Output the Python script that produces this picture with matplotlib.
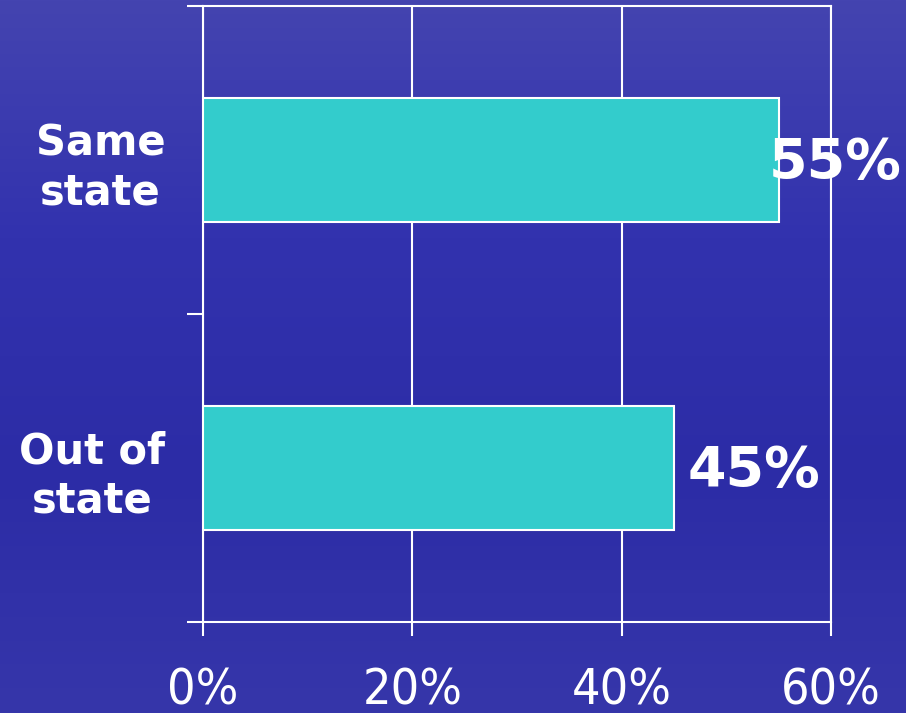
import numpy as np
import matplotlib.pyplot as plt
from matplotlib.colors import LinearSegmentedColormap

# data
categories = ['Out of\nstate', 'Same\nstate']
shares = [45, 55]
value_labels = ['45%', '55%']
xticks = [0, 20, 40, 60]
xtick_labels = ['0%', '20%', '40%', '60%']

fig = plt.figure(figsize=(9.06, 7.13), dpi=100)

# blue background (vertical gradient)
bg_ax = fig.add_axes([0, 0, 1, 1], zorder=-1)
bg_cmap = LinearSegmentedColormap.from_list('bg', ['#4444B0', '#3232AE', '#2C2CA6', '#3636AA'])
bg_ax.imshow(np.linspace(0, 1, 256).reshape(-1, 1), aspect='auto', cmap=bg_cmap,
             extent=[0, 1, 0, 1])
bg_ax.axis('off')

ax = fig.add_axes([203 / 906, 1 - 622 / 713, 628 / 906, 616 / 713])
ax.patch.set_alpha(0)

y = np.arange(len(categories))
ax.barh(y, shares, height=0.4, color='#33CCCC', edgecolor='white', linewidth=1.5, zorder=3)

ax.set_xlim(0, 60)
ax.set_ylim(-0.5, 1.5)

ax.set_xticks(xticks)
ax.set_xticklabels(xtick_labels, fontsize=36, color='white',
                   family='DejaVu Sans', fontstretch='condensed')
ax.tick_params(axis='x', direction='out', length=10, width=1.5, color='white', pad=22)

ax.set_yticks(y)
ax.set_yticklabels(categories, fontsize=30, fontweight='bold', color='white',
                   multialignment='center', linespacing=1.2)
ax.tick_params(axis='y', length=0, pad=27)
ax.set_yticks([-0.5, 0.5, 1.5], minor=True)
ax.tick_params(axis='y', which='minor', direction='out', length=11.5, width=1.5, color='white')

ax.grid(axis='x', color='white', linewidth=1.5, zorder=1)
for side in ['left', 'bottom', 'top', 'right']:
    ax.spines[side].set_color('white')
    ax.spines[side].set_linewidth(1.5)

label_offsets = [10, -7]
for yi, v, lab, off in zip(y, shares, value_labels, label_offsets):
    ax.annotate(lab, (v, yi), xytext=(off, -2), textcoords='offset points',
                ha='left', va='center', fontsize=40, fontweight='bold', color='white',
                zorder=4)

fig.savefig('out.png', dpi=100)
